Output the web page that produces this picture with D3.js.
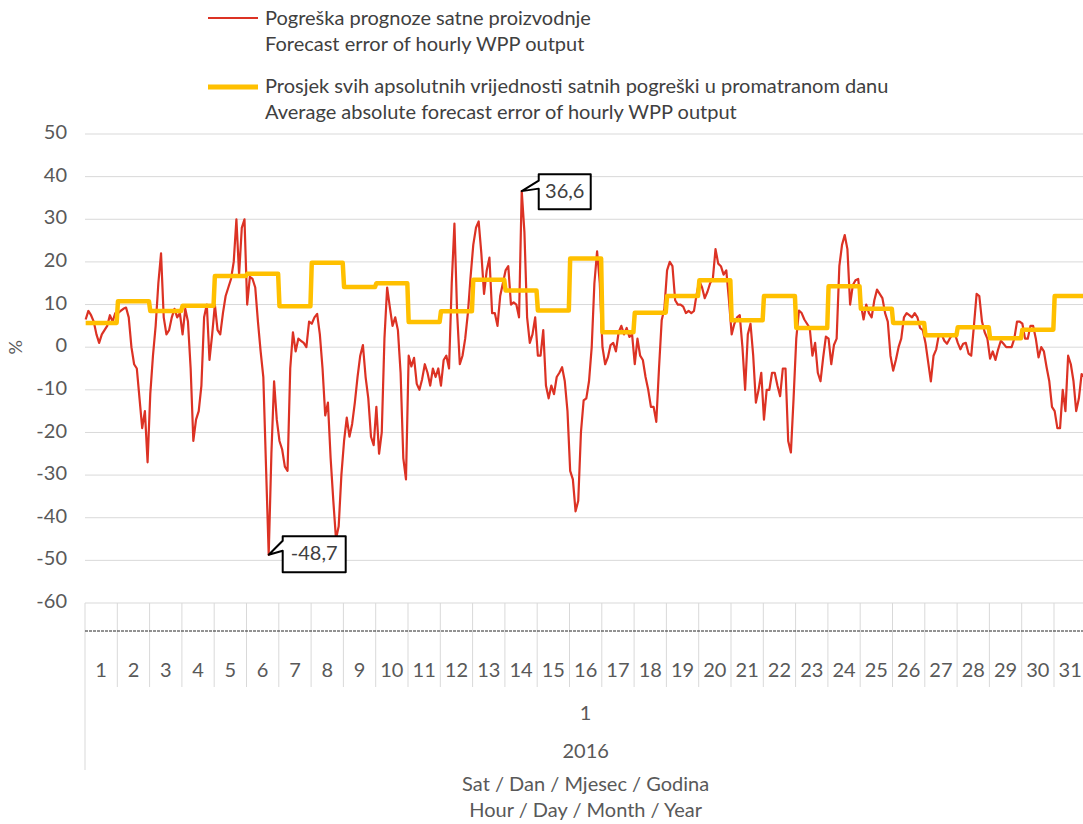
<!DOCTYPE html>
<html>
<head>
<meta charset="utf-8">
<script src="https://cdn.jsdelivr.net/npm/d3@7"></script>
<style>
  body { margin: 0; background: #fff; }
  text { font-family: Lato, "Liberation Sans", sans-serif; }
</style>
</head>
<body>
<svg id="chart" width="1083" height="824"></svg>
<script>
// days of January 2016
const days = [1,2,3,4,5,6,7,8,9,10,11,12,13,14,15,16,17,18,19,20,21,22,23,24,25,26,27,28,29,30,31];
const yTicks = [-60,-50,-40,-30,-20,-10,0,10,20,30,40,50];
const sampleHours = [0,2,4,6,8,10,12,14,16,18,20,22];

// forecast error of hourly WPP output (%), one row per day
const hourlyError = [
  [6.5, 8.5, 7.5, 6, 3, 1, 3, 4, 5, 7.5, 6, 8],
  [8, 8.5, 9, 9.3, 7, 0, -4, -5, -12, -19, -15, -27],
  [-11, -2, 5, 15, 22, 7, 3, 4, 7, 9, 7, 8],
  [3, 9, 6, -5, -22, -17, -15, -9, 7, 10, -3, 3],
  [10, 4, 3, 8, 12, 14, 16, 20, 30, 17, 28, 30],
  [10, 16.5, 16, 14, 6, -1, -7, -28, -48.7, -25, -8, -17],
  [-22, -24, -28, -29, -5, 3.5, -1, 2, 1.5, 1, 0, 6],
  [5.5, 7, 7.8, 3, -5, -16, -13, -26, -36, -45, -42, -30],
  [-22, -16.5, -21, -18, -13, -7, -2, 0.5, -7, -12, -21, -23],
  [-14, -25, -20, 2, 14, 9.4, 5, 7, 4, -6, -26, -31],
  [-2, -4.5, -2.5, -8.6, -10, -7.5, -4, -6, -9, -5, -7, -5],
  [-9, -3, -2, -5, 15, 29, 8, -4, -2, 2, 8, 16.5],
  [24, 28, 29.5, 22, 12.5, 18, 21, 8, 8, 5, 12, 15],
  [18, 19, 10, 10.5, 10, 7, 36.6, 27, 7, 1, 3, 7],
  [-2, -2, 4, -9, -12, -9, -11, -7, -6, -4.7, -8, -15],
  [-29, -31, -38.5, -36, -20, -12.5, -12, -8, 0, 15, 22.5, 15],
  [0, -4, -2.4, 0.5, 1, -1, 3.5, 5, 3, 4.5, 2.4, 3],
  [-4, 2, -2, -3, -7, -10, -14, -14, -17.5, -5, 6.3, 9],
  [18, 20, 19, 11, 10, 10, 9.5, 8, 8.5, 8, 8.5, 12.5],
  [15.5, 14, 11.5, 13, 15, 16, 23, 19.6, 19, 17, 18, 11],
  [3, 5.5, 7, 7.5, 0, -10, 3, 5.5, -2, -13, -10, -6],
  [-17, -10, -10, -6, -6, -9, -11.5, -5, -5, -22, -24.7, -12],
  [2, 8.6, 8, 6.5, 5.5, 4.5, -2, 1, -6, -8, -2.4, 2.5],
  [2, -4, 0.5, 2, 19, 24, 26.3, 23, 10, 14.5, 15.7, 16],
  [10, 6.5, 10, 8, 7, 11, 13.5, 12.5, 11.5, 8, 6, -2],
  [-5.5, -3, 0, 2, 7, 8, 7.5, 7, 8, 7, 4.5, 4],
  [1, -3.5, -8, -2, -0.5, 3, 3, 1.5, 0.8, 2, 3, 3],
  [1, -0.5, 0.8, 1, -1.5, -2, 5, 12.5, 12, 6, 3.5, 2],
  [-2.7, -1, -3, -0.5, 1.5, 0.8, 0, 0, 0, 2, 6, 6],
  [5.5, 2, 2, 5, 5, 2, -2.4, 0, -1, -4.7, -8, -14],
  [-15, -19, -19, -10, -15, -2, -4, -8, -15, -12, -6.3, -7]
];

// average absolute hourly error for each day (%)
const dailyAbsAvg = [5.7, 10.8, 8.5, 9.7, 16.7, 17.2, 9.6, 19.8, 14.1, 15, 5.9, 8.4, 15.8, 13.3, 8.6, 20.8,
  3.5, 8.1, 12, 15.7, 6.3, 12, 4.5, 14.3, 9, 5.7, 2.8, 4.7, 2.1, 4.1, 12];

const monthLabel = "1";
const yearLabel = "2016";
const axisTitle = ["Sat / Dan / Mjesec / Godina", "Hour / Day / Month / Year"];
const legendRed = ["Pogreška prognoze satne proizvodnje", "Forecast error of hourly WPP output"];
const legendYellow = ["Prosjek svih apsolutnih vrijednosti satnih pogreški u promatranom danu",
  "Average absolute forecast error of hourly WPP output"];

const red = "#dc3224", yellow = "#ffc000", grid = "#d9d9d9", txt = "#595959";
const fs = 20;

var svg = d3.select("#chart");
var plotL = 85, plotR = 1086.3, plotT = 134, plotB = 603;
var W = 1083;

var x = d3.scaleLinear().domain([0, days.length * 24]).range([plotL, plotR]);
var xDay = d3.scaleBand().domain(days).range([plotL, plotR]);
var y = d3.scaleLinear().domain([-60, 50]).range([plotB, plotT]);

// gridlines + y labels
svg.selectAll(".grid").data(yTicks).enter().append("line")
  .attr("x1", plotL).attr("x2", W)
  .attr("y1", d => y(d)).attr("y2", d => y(d))
  .attr("stroke", grid).attr("stroke-width", 1);

svg.selectAll(".ylab").data(yTicks).enter().append("text")
  .attr("x", 67).attr("y", d => y(d))
  .attr("text-anchor", "end").attr("dominant-baseline", "middle")
  .attr("font-size", fs).attr("fill", txt)
  .text(d => d);

svg.append("text")
  .attr("transform", "translate(17," + y(0) + ") rotate(-90)")
  .attr("text-anchor", "middle").attr("dominant-baseline", "middle")
  .attr("font-size", 18).attr("fill", txt).text("%");

// category axis (hour / day / month / year)
var bounds = days.map(d => xDay(d));
bounds.push(plotR);
svg.selectAll(".sep").data(bounds).enter().append("line")
  .attr("x1", d => d).attr("x2", d => d)
  .attr("y1", plotB).attr("y2", (d, i) => i == 0 ? 770 : 687)
  .attr("stroke", grid).attr("stroke-width", 1);

// hour level: too dense, shows as a dashed row
svg.append("line")
  .attr("x1", plotL).attr("x2", W).attr("y1", 631).attr("y2", 631)
  .attr("stroke", "#262626").attr("stroke-width", 1)
  .attr("stroke-dasharray", "3,1");

svg.selectAll(".dlab").data(days).enter().append("text")
  .attr("x", d => xDay(d) + xDay.bandwidth() / 2).attr("y", 672)
  .attr("text-anchor", "middle").attr("dominant-baseline", "middle")
  .attr("font-size", fs).attr("fill", txt)
  .text(d => d);

var midX = (plotL + plotR) / 2;
svg.append("text").attr("x", midX).attr("y", 715)
  .attr("text-anchor", "middle").attr("dominant-baseline", "middle")
  .attr("font-size", fs).attr("fill", txt).text(monthLabel);
svg.append("text").attr("x", midX).attr("y", 753)
  .attr("text-anchor", "middle").attr("dominant-baseline", "middle")
  .attr("font-size", fs).attr("fill", txt).text(yearLabel);
axisTitle.forEach(function(t, i) {
  svg.append("text").attr("x", midX).attr("y", 786 + i * 26)
    .attr("text-anchor", "middle").attr("dominant-baseline", "middle")
    .attr("font-size", fs).attr("fill", txt).text(t);
});

// red hourly error line
var redPts = [];
hourlyError.forEach(function(row, d) {
  row.forEach(function(v, k) {
    redPts.push({h: d * 24 + sampleHours[k], v: v});
  });
});
var line = d3.line().x(d => x(d.h + 0.5)).y(d => y(d.v));

svg.append("path").datum(redPts)
  .attr("d", line).attr("fill", "none")
  .attr("stroke", red).attr("stroke-width", 2.2).attr("stroke-linejoin", "round");

// yellow daily average (constant for all hours of the day)
var yelPts = [];
dailyAbsAvg.forEach(function(v, d) {
  yelPts.push({h: d * 24, v: v});
  yelPts.push({h: d * 24 + 23, v: v});
});
svg.append("path").datum(yelPts)
  .attr("d", line).attr("fill", "none")
  .attr("stroke", yellow).attr("stroke-width", 4.5).attr("stroke-linejoin", "round");

// callouts for max and min
var maxPt = redPts.reduce((a, b) => b.v > a.v ? b : a);
var minPt = redPts.reduce((a, b) => b.v < a.v ? b : a);
var fmt = v => String(v).replace(".", ",");

function callout(p, dx, dy, w, h, w1, w2) {
  var px = x(p.h + 0.5), py = y(p.v);
  var bx = px + dx, by = py + dy;
  var path = "M" + bx + "," + by + "H" + (bx + w) + "V" + (by + h) + "H" + bx +
    "V" + (by + w2) + "L" + px + "," + py + "L" + bx + "," + (by + w1) + "Z";
  svg.append("path").attr("d", path)
    .attr("fill", "#fff").attr("stroke", "#000").attr("stroke-width", 2)
    .attr("stroke-linejoin", "round");
  svg.append("text").attr("x", bx + w / 2).attr("y", by + h / 2 + 1)
    .attr("text-anchor", "middle").attr("dominant-baseline", "middle")
    .attr("font-size", fs).attr("fill", "#404040").text(fmt(p.v));
}
callout(maxPt, 17, -17, 52, 35, 6.5, 14.5);
callout(minPt, 14, -18.5, 63, 36, 4.5, 14.5);

// legend
svg.append("line").attr("x1", 208).attr("x2", 258).attr("y1", 18).attr("y2", 18)
  .attr("stroke", red).attr("stroke-width", 2);
svg.append("line").attr("x1", 208).attr("x2", 258).attr("y1", 87).attr("y2", 87)
  .attr("stroke", yellow).attr("stroke-width", 5);
legendRed.forEach(function(t, i) {
  svg.append("text").attr("x", 265).attr("y", 20 + i * 26)
    .attr("dominant-baseline", "middle").attr("font-size", fs).attr("fill", "#404040").text(t);
});
legendYellow.forEach(function(t, i) {
  svg.append("text").attr("x", 265).attr("y", 88 + i * 26)
    .attr("dominant-baseline", "middle").attr("font-size", fs).attr("fill", "#404040").text(t);
});
</script>
</body>
</html>
